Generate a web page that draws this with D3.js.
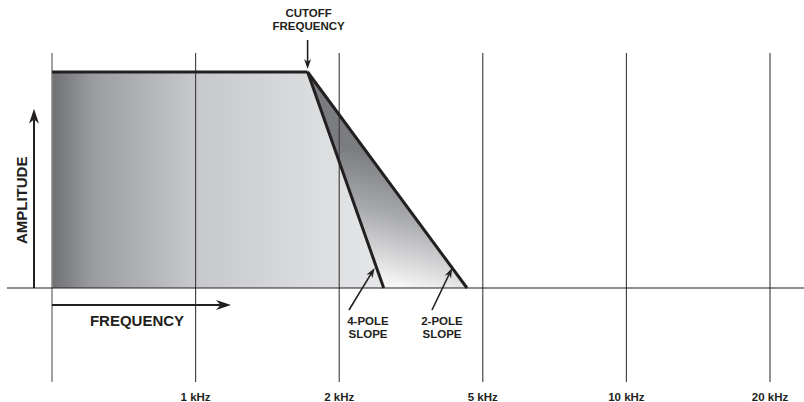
<!DOCTYPE html>
<html>
<head>
<meta charset="utf-8">
<script src="https://cdn.jsdelivr.net/npm/d3@7"></script>
<style>
  html, body { margin: 0; padding: 0; background: #fff; }
  svg { display: block; }
  text { font-family: "Liberation Sans Narrow", "Liberation Sans", Arial, sans-serif; font-weight: bold; fill: #231f20; }
</style>
</head>
<body>
<svg id="chart" width="804" height="402"></svg>
<script>
// ---- data ----
const gridIndex = [0, 1, 2, 3, 4, 5];
const tickLabels = ["", "1 kHz", "2 kHz", "5 kHz", "10 kHz", "20 kHz"];
const passbandLevel = [1];          // normalized amplitude of the flat passband
const cutoffPos = [1.78];           // cutoff frequency on grid-index scale
const slopeNames = ["4-POLE", "2-POLE"];
const slopeEndPos = [2.31, 2.89];   // where each slope reaches zero amplitude

// ---- scales ----
const svg = d3.select("#chart");
const x = d3.scaleLinear().domain([0, 5]).range([52, 770]);
const y = d3.scaleLinear().domain([0, 1]).range([288, 72]);
const ink = "#231f20";

const defs = svg.append("defs");
const g1 = defs.append("linearGradient").attr("id", "passGrad")
  .attr("gradientUnits", "userSpaceOnUse")
  .attr("x1", x(0)).attr("y1", 0).attr("x2", x(slopeEndPos[0])).attr("y2", 0);
[[0, "#6f7074"], [0.12, "#9a9b9e"], [0.42, "#c6c7ca"], [0.75, "#d9dadc"], [1, "#e6e7e8"]]
  .forEach(([o, c]) => g1.append("stop").attr("offset", o).attr("stop-color", c));

const g2 = defs.append("linearGradient").attr("id", "slopeGrad")
  .attr("gradientUnits", "userSpaceOnUse")
  .attr("x1", 400).attr("y1", 160).attr("x2", 370).attr("y2", 280);
[[0, "#7b7c80"], [0.45, "#a9aaad"], [1, "#f7f7f7"]]
  .forEach(([o, c]) => g2.append("stop").attr("offset", o).attr("stop-color", c));

const line = d3.line().x(d => x(d[0])).y(d => y(d[1]));
const lvl = passbandLevel[0];
const cut = cutoffPos[0];

// area between the two slopes
svg.append("path")
  .attr("d", line([[cut, lvl], [slopeEndPos[1], 0], [slopeEndPos[0], 0]]) + "Z")
  .attr("fill", "url(#slopeGrad)");

// passband area under 4-pole slope
svg.append("path")
  .attr("d", line([[0, lvl], [cut, lvl], [slopeEndPos[0], 0], [0, 0]]) + "Z")
  .attr("fill", "url(#passGrad)");

// vertical grid lines
svg.append("g").selectAll("line").data(gridIndex).join("line")
  .attr("x1", d => x(d)).attr("x2", d => x(d))
  .attr("y1", 53).attr("y2", 382)
  .attr("stroke", (d, i) => i === 0 ? "#8a8a8a" : "#3a3a3a")
  .attr("stroke-width", (d, i) => i === 0 ? 1.6 : 1.1);

// baseline
svg.append("line").attr("x1", 7).attr("x2", 804)
  .attr("y1", y(0)).attr("y2", y(0))
  .attr("stroke", ink).attr("stroke-width", 1.2);

// tick labels
svg.append("g").selectAll("text").data(gridIndex.filter(i => tickLabels[i])).join("text")
  .attr("x", d => x(d)).attr("y", 401)
  .attr("text-anchor", "middle").attr("font-size", 11.5)
  .text(d => tickLabels[d]);

// response outline
svg.append("path").attr("d", line([[0, lvl], [cut, lvl]]))
  .attr("stroke", ink).attr("stroke-width", 3).attr("fill", "none");
slopeEndPos.forEach(e => {
  svg.append("path").attr("d", line([[cut, lvl], [e, 0]]))
    .attr("stroke", ink).attr("stroke-width", 3).attr("fill", "none")
    .attr("stroke-linejoin", "miter");
});

// arrow helper
function arrow(x1, y1, x2, y2, head, width, sw) {
  const a = Math.atan2(y2 - y1, x2 - x1);
  const bx = x2 - head * Math.cos(a), by = y2 - head * Math.sin(a);
  const nx = -Math.sin(a) * width / 2, ny = Math.cos(a) * width / 2;
  const ix = x2 - head * 0.7 * Math.cos(a), iy = y2 - head * 0.7 * Math.sin(a);
  svg.append("line").attr("x1", x1).attr("y1", y1).attr("x2", ix).attr("y2", iy)
    .attr("stroke", ink).attr("stroke-width", sw);
  svg.append("path")
    .attr("d", `M${x2},${y2}L${bx + nx},${by + ny}L${ix},${iy}L${bx - nx},${by - ny}Z`)
    .attr("fill", ink);
}

// amplitude axis arrow
arrow(34, y(0), 34, y(0.83), 15, 10, 2);
svg.append("text")
  .attr("transform", `translate(27,${(y(0) + y(0.83)) / 2 + 2}) rotate(-90)`)
  .attr("text-anchor", "middle").attr("font-size", 15)
  .text("AMPLITUDE");

// frequency axis arrow
arrow(x(0), 305, 231, 305, 15, 10, 2);
svg.append("text").attr("x", 137).attr("y", 326)
  .attr("text-anchor", "middle").attr("font-size", 15)
  .text("FREQUENCY");

// cutoff annotation
arrow(x(cut), 40, x(cut), y(lvl) - 3, 10, 7, 1.6);
svg.append("text").attr("x", x(cut) + 1).attr("y", 17)
  .attr("text-anchor", "middle").attr("font-size", 11.5).text("CUTOFF");
svg.append("text").attr("x", x(cut) + 1).attr("y", 30)
  .attr("text-anchor", "middle").attr("font-size", 11.5).text("FREQUENCY");

// slope annotations
const labelX = [368, 442];
slopeNames.forEach((name, i) => {
  const amp = 0.093;
  const tx = x(slopeEndPos[i] + (cut - slopeEndPos[i]) * amp) - (i === 0 ? 2 : 0);
  const ty = y(amp);
  arrow(labelX[i] - 19 + (i === 1 ? 9 : 0), 310, tx, ty, 10, 7, 1.6);
  svg.append("text").attr("x", labelX[i]).attr("y", 325)
    .attr("text-anchor", "middle").attr("font-size", 11.5).text(name);
  svg.append("text").attr("x", labelX[i]).attr("y", 338)
    .attr("text-anchor", "middle").attr("font-size", 11.5).text("SLOPE");
});
</script>
</body>
</html>
